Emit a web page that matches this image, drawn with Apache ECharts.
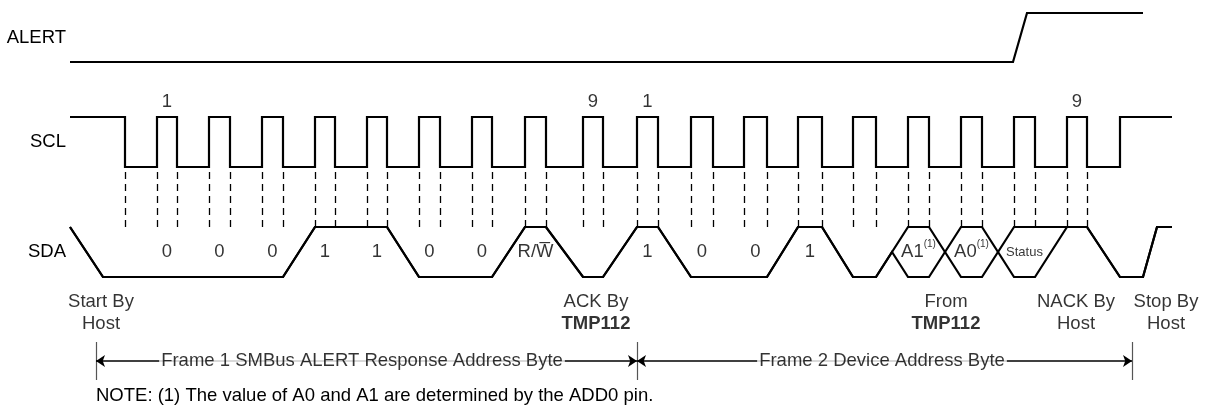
<!DOCTYPE html>
<html><head><meta charset="utf-8">
<script src="https://cdn.jsdelivr.net/npm/echarts@6/dist/echarts.min.js"></script>
<style>html,body{margin:0;padding:0;background:#fff}#c{width:1206px;height:419px}</style>
</head><body><div id="c"></div><script>
// ---------- data (time in arbitrary units, levels 0 = low, 1 = high) ----------
const tEnd = 110.2;
const alertLow = [0, 94.3];          // ALERT low from .. to (rise starts)
const alertHighFrom = 95.7;          // ALERT reaches high
const alertEnd = 107.3;
const sclStartFall = 5.5;
const sclStopRise = 105.0;
const sclPulses = [[8.7,10.7],[13.9,16.0],[19.2,21.3],[24.5,26.5],[29.7,31.7],[34.9,37.0],[40.2,42.2],[45.5,47.6],[51.3,53.3],
                   [56.7,58.8],[62.1,64.3],[67.4,69.7],[72.8,75.2],[78.3,80.6],[83.8,85.9],[89.1,91.2],[94.4,96.5],[99.7,101.7]];
const pulseNumbers = ['1','','','','','','','','9','1','','','','','','','','9'];
const sdaStartFall = [0, 3.3];
const sdaBits = ['0','0','0','1','1','0','0','1','0','1','0','0','1','0','X','X','X','1'];
const sdaStop = [107.3, 108.7];      // STOP rise start / end
const bitLabels = ['0','0','0','1','1','0','0','RW','','1','0','0','1','','A1','A0','Status',''];
const notes = [
  {t: 3.1,   line1: 'Start By', line2: 'Host',   bold: false},
  {t: 52.6,  line1: 'ACK By',   line2: 'TMP112', bold: true},
  {t: 87.6,  line1: 'From',     line2: 'TMP112', bold: true},
  {t: 100.6, line1: 'NACK By',  line2: 'Host',   bold: false},
  {t: 109.6, line1: 'Stop By',  line2: 'Host',   bold: false}
];
const frames = [
  {from: 2.6,  to: 56.7,  labelAt: 29.2, text: 'Frame 1 SMBus ALERT Response Address Byte'},
  {from: 56.7, to: 106.2, labelAt: 81.2, text: 'Frame 2 Device Address Byte'}
];
const noteText = 'NOTE: (1) The value of A0 and A1 are determined by the ADD0 pin.';

// ---------- build waveforms ----------
const FONT = '"Liberation Sans", Arial, sans-serif';
const FS = 18.5;

const alertData = [[alertLow[0],0],[alertLow[1],0],[alertHighFrom,1],[alertEnd,1]];

const sclData = [[0,1],[sclStartFall,1],[sclStartFall,0]];
sclPulses.forEach(([r,f]) => { sclData.push([r,0],[r,1],[f,1],[f,0]); });
sclData.push([sclStopRise,0],[sclStopRise,1],[tEnd,1]);

function sdaTrace(which) {
  const val = b => b === 'X' ? (which === 'hi' ? 1 : 0) : Number(b);
  const pts = [[sdaStartFall[0],1],[sdaStartFall[1],0]];
  let prev = 0;
  sdaBits.forEach((b, i) => {
    const ws = i === 0 ? sclStartFall : sclPulses[i-1][1];
    const we = sclPulses[i][0];
    const n = val(b);
    pts.push([ws, prev]);
    if (b === 'X' && prev === n) pts.push([(ws+we)/2, 0.5]);
    pts.push([we, n], [sclPulses[i][1], n]);
    prev = n;
  });
  const last = sclPulses[sclPulses.length-1][1];
  pts.push([last, prev],[sclStopRise,0],[sdaStop[0],0],[sdaStop[1],1],[tEnd,1]);
  return pts;
}

const edges = [sclStartFall];
sclPulses.forEach(([r,f]) => edges.push(r,f));

// ---------- layout ----------
const L = 70, W = 1102;
const grids = [
  {left: L, width: W, top: 13,  height: 49},   // 0 ALERT
  {left: L, width: W, top: 117, height: 50},   // 1 SCL
  {left: L, width: W, top: 167, height: 60},   // 2 guide lines
  {left: L, width: W, top: 227, height: 50},   // 3 SDA
  {left: L, width: W, top: 342, height: 38}    // 4 frames
];
const names = ['ALERT','SCL','','SDA',''];
const xAxes = grids.map((g,i) => ({gridIndex:i, type:'value', min:0, max:tEnd, show:false}));
const yAxes = grids.map((g,i) => ({
  gridIndex:i, type:'value', min:0, max:1, interval:0.5, show: names[i] !== '',
  axisLine:{show:false}, axisTick:{show:false}, splitLine:{show:false},
  axisLabel:{show:true, margin:4, color:'#000', fontSize:FS, fontFamily:FONT,
    formatter: v => v === 0.5 ? names[i] : ''}
}));

const sig = {type:'line', showSymbol:false, symbol:'none', clip:false, silent:true,
  lineStyle:{color:'#000', width:2.2, join:'miter'}, animation:false};
const labelScatter = (gi, data, label) => ({type:'scatter', xAxisIndex:gi, yAxisIndex:gi, symbolSize:1, clip:false, silent:true,
  z: 50, zlevel: 1,
  itemStyle:{color:'transparent'}, data, label: Object.assign({show:true, color:'#000', fontFamily:FONT, fontSize:FS}, label)});

const series = [
  Object.assign({}, sig, {xAxisIndex:0, yAxisIndex:0, data: alertData}),
  Object.assign({}, sig, {xAxisIndex:1, yAxisIndex:1, data: sclData}),
  Object.assign({}, sig, {xAxisIndex:3, yAxisIndex:3, data: sdaTrace('hi')}),
  Object.assign({}, sig, {xAxisIndex:3, yAxisIndex:3, data: sdaTrace('lo')}),
  // dashed guide lines at SCL edges
  {type:'line', xAxisIndex:2, yAxisIndex:2, data:[], silent:true,
    markLine:{silent:true, symbol:'none', animation:false, label:{show:false},
      lineStyle:{color:'#000', width:1.3, type:[7,5]},
      data: edges.map(t => ({xAxis:t}))}},
  // frame end bars
  {type:'line', xAxisIndex:4, yAxisIndex:4, data:[], silent:true,
    markLine:{silent:true, symbol:'none', animation:false, label:{show:false},
      lineStyle:{color:'#555', width:1.2, type:'solid'},
      data: [frames[0].from, frames[0].to, frames[1].to].map(t => ({xAxis:t}))}},
  // frame arrows
  {type:'line', xAxisIndex:4, yAxisIndex:4, data:[], silent:true,
    markLine:{silent:true, symbol:['arrow','arrow'], symbolSize:9, animation:false, label:{show:false},
      lineStyle:{color:'#000', width:1.5, type:'solid'},
      data: frames.map(f => [{coord:[f.from,0.5]},{coord:[f.to,0.5]}])}},
  labelScatter(4, frames.map(f => ({value:[f.labelAt,0.5], name:f.text})),
    {position:'inside', formatter: p => p.name, backgroundColor:'#fff', padding:[1,2]}),
  // pulse numbers
  labelScatter(1, sclPulses.map((p,i) => ({value:[(p[0]+p[1])/2,1], name:pulseNumbers[i]})).filter(d => d.name),
    {position:'top', distance:5, formatter: p => p.name}),
  // bit labels
  labelScatter(3, sclPulses.map((p,i) => ({value:[(p[0]+p[1])/2,0.5], name:bitLabels[i]})).filter(d => d.name),
    {position:'inside', formatter: p => {
      if (p.name === 'RW') return 'R/W\u0305';
      if (p.name === 'A1' || p.name === 'A0') return '{m|' + p.name + '}{s|(1)}';
      if (p.name === 'Status') return '{st|Status}';
      return p.name; },
     rich:{m:{fontSize:FS, fontFamily:FONT, color:'#000', lineHeight:26},
           s:{fontSize:10, fontFamily:FONT, color:'#000', verticalAlign:'top'},
           st:{fontSize:13, fontFamily:FONT, color:'#000'}}}),
  // notes below SDA
  labelScatter(3, notes.map(n => ({value:[n.t,0], name:n.line1, n})),
    {position:'bottom', distance:13, lineHeight:22,
     formatter: p => '{n|' + p.data.n.line1 + '}\n{' + (p.data.n.bold ? 'b' : 'n') + '|' + p.data.n.line2 + '}',
     rich:{n:{fontSize:FS, fontFamily:FONT, color:'#000', lineHeight:22, align:'center'},
           b:{fontSize:FS, fontFamily:FONT, color:'#000', lineHeight:22, fontWeight:'bold', align:'center'}}})
];

const chart = echarts.init(document.getElementById('c'), null, {renderer:'canvas'});
chart.setOption({
  animation:false, backgroundColor:'#fff',
  title:{text:noteText, left:96, top:386, padding:0,
    textStyle:{fontSize:FS, fontWeight:'normal', color:'#000', fontFamily:FONT, lineHeight:20}},
  grid: grids, xAxis: xAxes, yAxis: yAxes, series
});
</script></body></html>
